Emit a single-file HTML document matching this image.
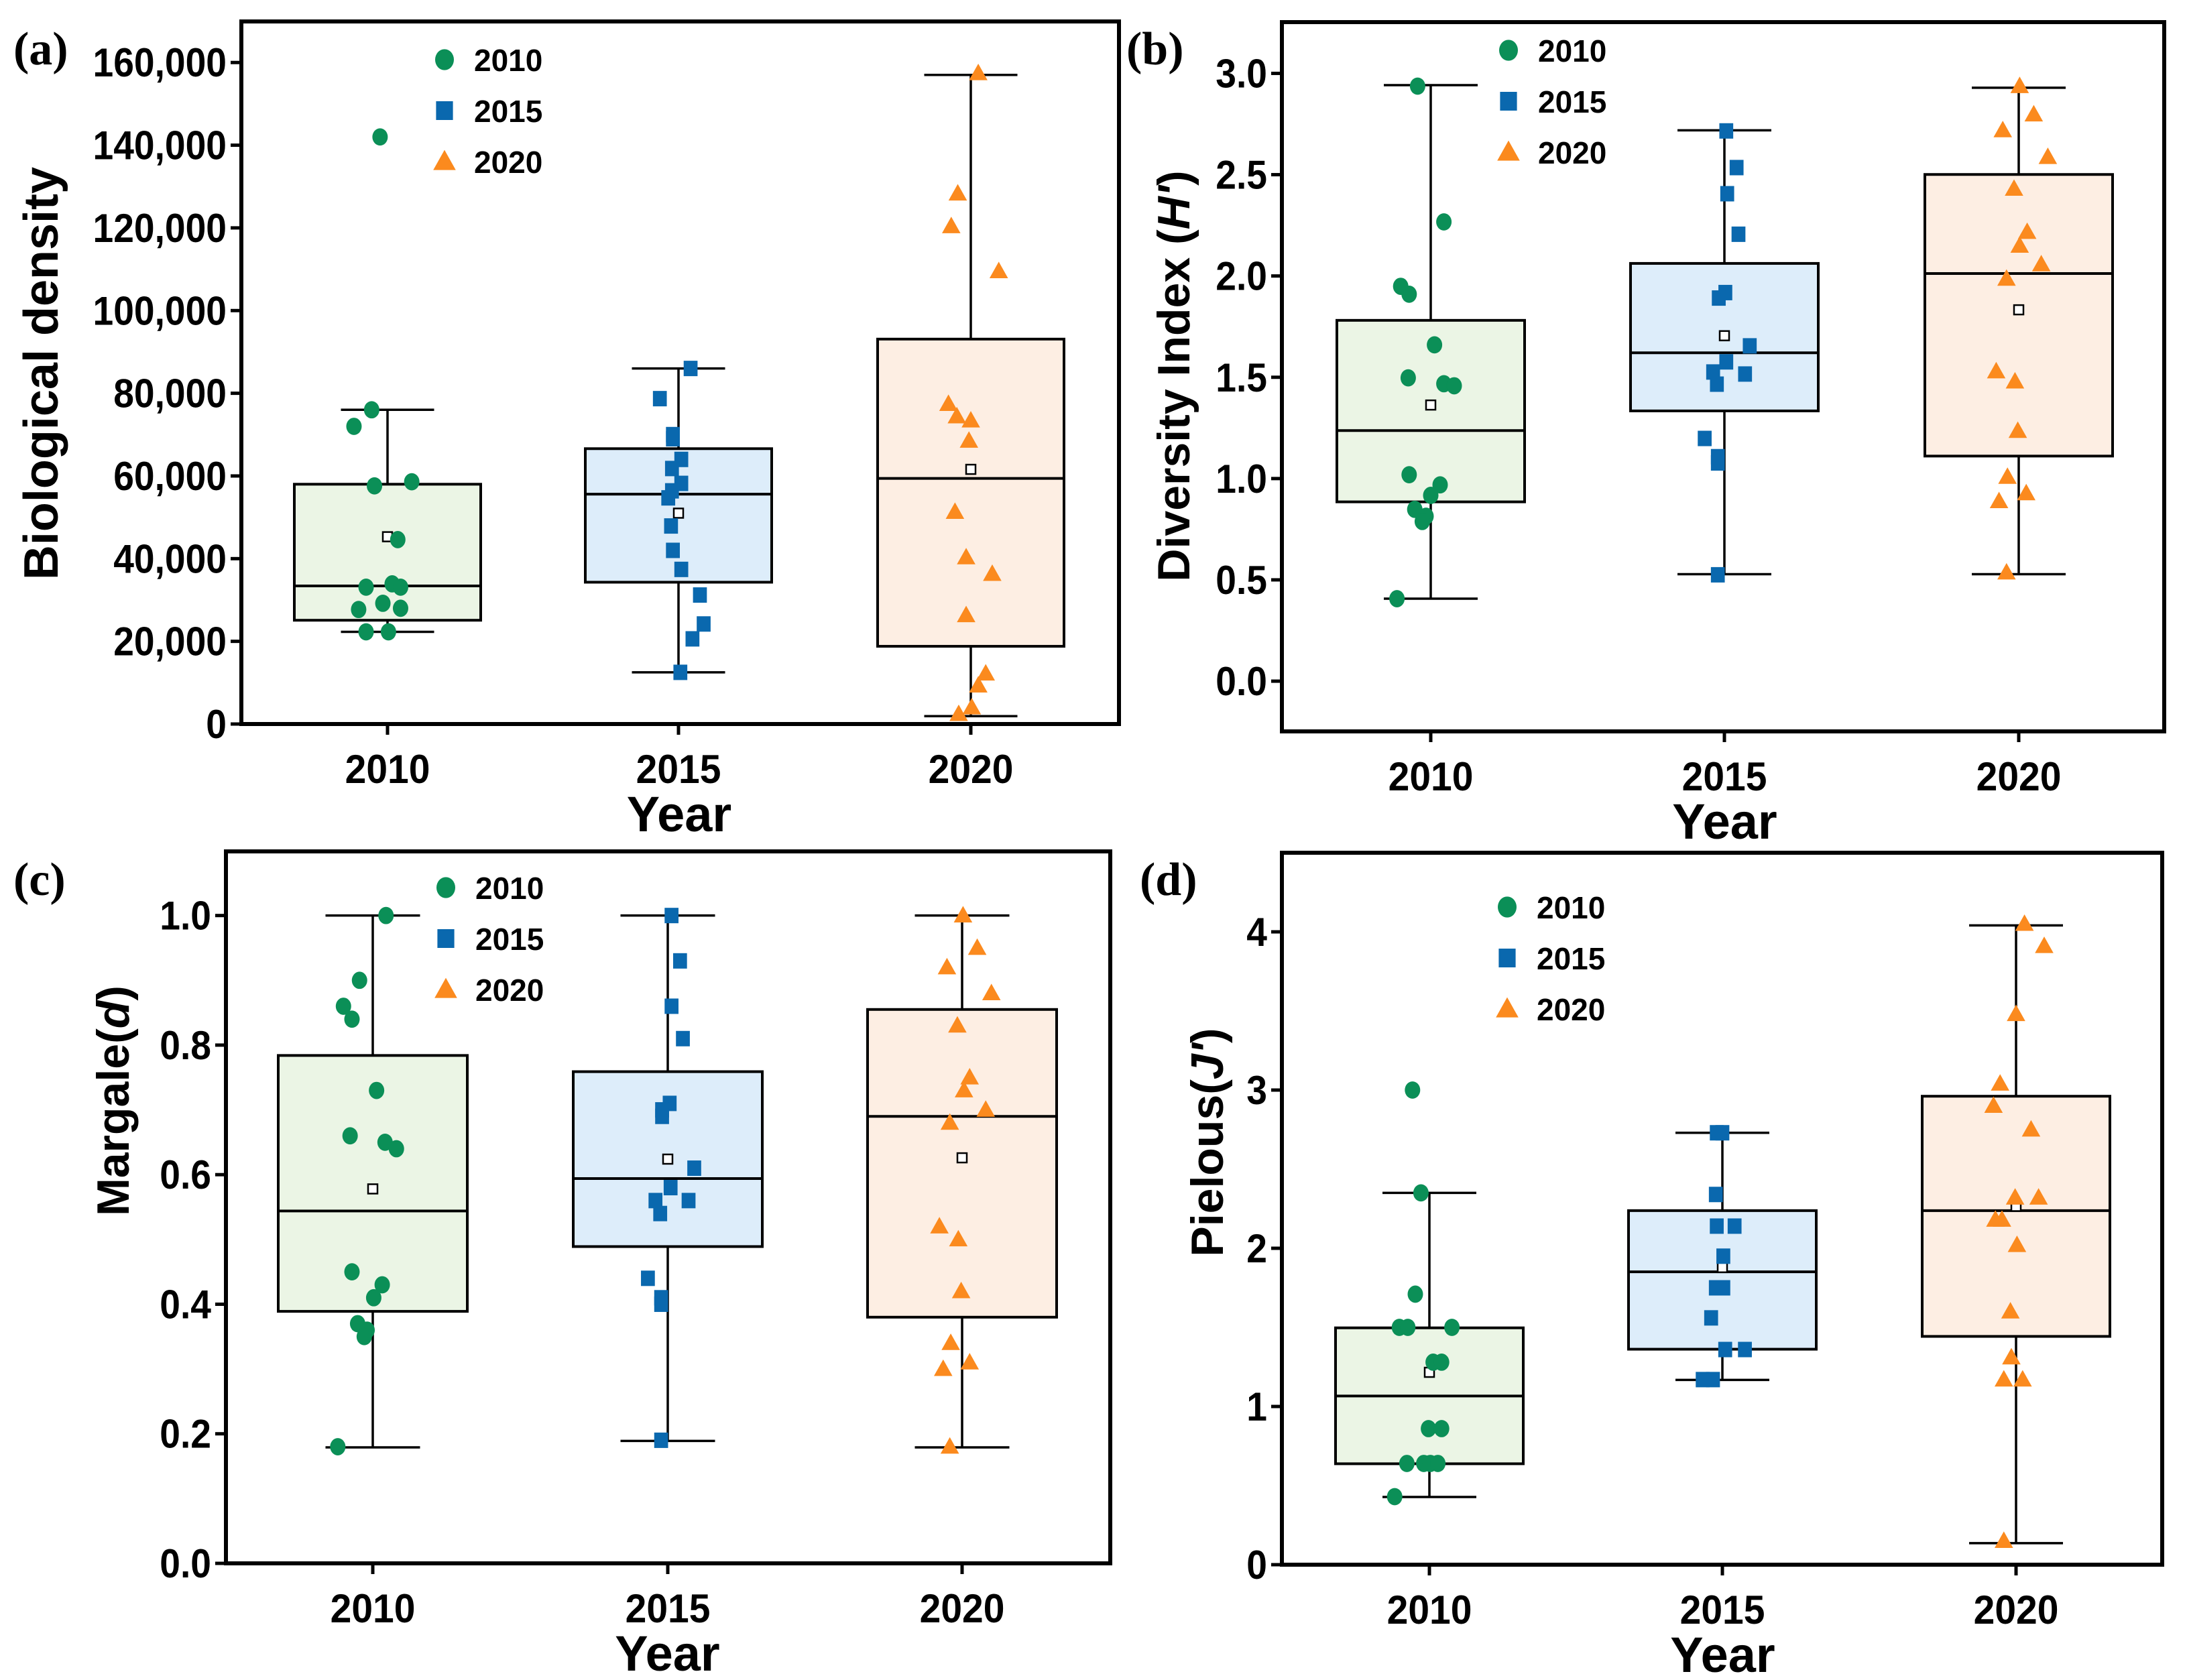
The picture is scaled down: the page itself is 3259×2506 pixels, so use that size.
<!DOCTYPE html>
<html><head><meta charset="utf-8">
<style>
html,body{margin:0;padding:0;background:#fff;}
svg{display:block;font-family:"Liberation Sans",Arial,sans-serif;}
</style></head>
<body>
<svg id="fig" width="3259" height="2506" viewBox="0 0 3259 2506" xmlns="http://www.w3.org/2000/svg"></svg>
<script>
// ---------- data ----------
const categories = ["2010","2015","2020"];
// panel a : biological density
const aBoxQ1 = [25100, 34300, 18800];
const aBoxQ3 = [58000, 66600, 93100];
const aMedian = [33400, 55600, 59400];
const aWhiskLo = [22300, 12500, 1900];
const aWhiskHi = [76000, 86000, 157000];
const aMean = [45300, 51000, 61600];
const aPts2010 = [142000,76000,72000,57600,58600,44600,33100,33900,33100,29200,27700,28000,22300,22300];
const aJit2010 = [-0.08,-0.17,-0.36,-0.14,0.26,0.11,-0.23,0.05,0.14,-0.05,-0.31,0.14,-0.23,0.01];
const aPts2015 = [86000,78700,70000,69000,64000,61800,58200,56400,54700,47900,42000,37400,31200,24200,20600,12500];
const aJit2015 = [0.13,-0.2,-0.06,-0.06,0.03,-0.07,0.03,-0.07,-0.11,-0.08,-0.06,0.03,0.23,0.27,0.15,0.02];
const aPts2020 = [157400,128300,120400,109500,77400,74400,73400,68500,51300,40300,36300,26300,12200,9300,4000,2400];
const aJit2020 = [0.08,-0.14,-0.21,0.3,-0.24,-0.15,0,-0.02,-0.17,-0.05,0.23,-0.05,0.16,0.08,0.01,-0.13];
const aTicks = [0,20000,40000,60000,80000,100000,120000,140000,160000];
// panel b : diversity index
const bBoxQ1 = [0.885, 1.334, 1.111];
const bBoxQ3 = [1.781, 2.062, 2.501];
const bMedian = [1.237, 1.621, 2.012];
const bWhiskLo = [0.407, 0.528, 0.528];
const bWhiskHi = [2.942, 2.719, 2.929];
const bMean = [1.363, 1.705, 1.833];
const bPts2010 = [2.937,2.267,1.949,1.91,1.66,1.497,1.468,1.458,1.019,0.969,0.917,0.848,0.814,0.788,0.407];
const bJit2010 = [-0.14,0.14,-0.32,-0.23,0.04,-0.24,0.14,0.25,-0.23,0.1,0,-0.17,-0.05,-0.09,-0.36];
const bPts2015 = [2.716,2.535,2.406,2.206,1.918,1.891,1.655,1.576,1.526,1.516,1.466,1.198,1.108,1.077,0.525];
const bJit2015 = [0.02,0.13,0.03,0.15,0.01,-0.06,0.27,0.02,-0.12,0.22,-0.08,-0.21,-0.07,-0.07,-0.07];
const bPts2020 = [2.937,2.797,2.719,2.587,2.43,2.217,2.149,2.057,1.986,1.529,1.479,1.235,1.008,0.927,0.888,0.536];
const bJit2020 = [0.01,0.16,-0.17,0.31,-0.05,0.09,0.01,0.24,-0.13,-0.24,-0.04,-0.01,-0.12,0.08,-0.21,-0.13];
const bTicks = [0,0.5,1,1.5,2,2.5,3];
// panel c : margalef
const cBoxQ1 = [0.389, 0.489, 0.38];
const cBoxQ3 = [0.784, 0.759, 0.855];
const cMedian = [0.544, 0.594, 0.69];
const cWhiskLo = [0.179, 0.189, 0.179];
const cWhiskHi = [1.0, 1.0, 1.0];
const cMean = [0.578, 0.624, 0.626];
const cPts2010 = [1.0,0.9,0.86,0.84,0.73,0.66,0.65,0.64,0.45,0.43,0.41,0.37,0.36,0.35,0.18];
const cJit2010 = [0.14,-0.14,-0.31,-0.22,0.04,-0.24,0.13,0.25,-0.22,0.1,0.01,-0.16,-0.06,-0.09,-0.37];
const cPts2015 = [1.0,0.93,0.86,0.81,0.71,0.70,0.69,0.61,0.58,0.56,0.56,0.54,0.44,0.41,0.40,0.19];
const cJit2015 = [0.04,0.13,0.04,0.16,0.02,-0.06,-0.06,0.28,0.03,-0.13,0.22,-0.08,-0.21,-0.07,-0.07,-0.07];
const cPts2020 = [1.0,0.95,0.92,0.88,0.83,0.75,0.73,0.70,0.68,0.52,0.50,0.42,0.34,0.31,0.30,0.18];
const cJit2020 = [0.01,0.16,-0.16,0.31,-0.05,0.08,0.02,0.25,-0.13,-0.24,-0.04,-0.01,-0.12,0.08,-0.2,-0.13];
const cTicks = [0,0.2,0.4,0.6,0.8,1.0];
// panel d : pielou
const dBoxQ1 = [0.638, 1.362, 1.443];
const dBoxQ3 = [1.497, 2.238, 2.961];
const dMedian = [1.066, 1.851, 2.238];
const dWhiskLo = [0.428, 1.168, 0.136];
const dWhiskHi = [2.35, 2.73, 4.041];
const dMean = [1.216, 1.878, 2.265];
const dPts2010 = [3.0,2.35,1.71,1.5,1.5,1.5,1.28,1.28,0.86,0.86,0.64,0.64,0.64,0.64,0.43];
const dJit2010 = [-0.18,-0.09,-0.15,-0.32,-0.23,0.24,0.04,0.13,-0.01,0.13,-0.24,-0.06,0.01,0.09,-0.37];
const dPts2015 = [2.73,2.73,2.34,2.14,2.14,1.95,1.75,1.75,1.56,1.36,1.36,1.17,1.17];
const dJit2015 = [-0.06,0,-0.07,-0.06,0.13,0.01,-0.07,0.01,-0.12,0.03,0.24,-0.21,-0.1];
const dPts2020 = [4.05,3.91,3.48,3.04,2.9,2.75,2.32,2.32,2.18,2.18,2.02,1.6,1.31,1.17,1.17,0.15];
const dJit2020 = [0.09,0.3,0,-0.17,-0.24,0.16,-0.01,0.24,-0.22,-0.15,0.01,-0.06,-0.05,-0.13,0.07,-0.13];
const dTicks = [0,1,2,3,4];

// ---------- drawing ----------
const NS = "http://www.w3.org/2000/svg";
const svg = document.getElementById("fig");
const COLORS = ["#0b8f57","#0a68ae","#fb8a1e"];
const FILLS = ["#ebf5e5","#ddedfa","#fdeee3"];
function mk(tag, attrs, parent){
  const e = document.createElementNS(NS, tag);
  for (const k in attrs) e.setAttribute(k, attrs[k]);
  (parent||svg).appendChild(e);
  return e;
}
function marker(g, kind, cx, cy, s, color){
  let e;
  if (kind===0) e = mk("ellipse",{cx:cx,cy:cy,rx:s*0.5,ry:s*0.56,fill:color},g);
  else if (kind===1) e = mk("rect",{x:cx-s*0.45,y:cy-s*0.5,width:s*0.9,height:s,fill:color},g);
  else e = mk("polygon",{points:`${cx},${cy-s*0.62} ${cx+s*0.6},${cy+s*0.45} ${cx-s*0.6},${cy+s*0.45}`,fill:color},g);
  return e;
}
function panel(p){
  const g = mk("g",{});
  
  
  const y = v => p.bottom - (v - p.ymin)/(p.ymax - p.ymin)*(p.bottom - p.top);
  const x = i => p.centers[i];
  for (let i=0;i<3;i++){
    const bg = mk("g",{},g);
    
    
    const cx = x(i), hw = p.hw;
    mk("line",{x1:cx,x2:cx,y1:y(p.whHi[i]),y2:y(p.q3[i]),stroke:"#000","stroke-width":3.5},bg);
    mk("line",{x1:cx,x2:cx,y1:y(p.q1[i]),y2:y(p.whLo[i]),stroke:"#000","stroke-width":3.5},bg);
    mk("line",{x1:cx-hw/2,x2:cx+hw/2,y1:y(p.whHi[i]),y2:y(p.whHi[i]),stroke:"#000","stroke-width":3.5},bg);
    mk("line",{x1:cx-hw/2,x2:cx+hw/2,y1:y(p.whLo[i]),y2:y(p.whLo[i]),stroke:"#000","stroke-width":3.5},bg);
    mk("rect",{x:cx-hw,y:y(p.q3[i]),width:2*hw,height:y(p.q1[i])-y(p.q3[i]),fill:FILLS[i],stroke:"#000","stroke-width":4},bg);
    mk("line",{x1:cx-hw,x2:cx+hw,y1:y(p.med[i]),y2:y(p.med[i]),stroke:"#000","stroke-width":4},bg);
    mk("rect",{x:cx-7,y:y(p.mean[i])-7,width:14,height:14,fill:"#fff",stroke:"#000","stroke-width":2.5},bg);
    const pts = p.pts[i], jit = p.jit[i];
    for (let k=0;k<pts.length;k++){
      const m = marker(bg, i, cx + jit[k]*hw, y(pts[k]), 23, COLORS[i]);
      
      
    }
  }
  const fr = mk("rect",{x:p.left,y:p.top,width:p.right-p.left,height:p.bottom-p.top,fill:"none",stroke:"#000","stroke-width":6},g);
  
  
  for (const t of p.ticks){
    const ty = y(t);
    mk("line",{x1:p.left-16,x2:p.left,y1:ty,y2:ty,stroke:"#000","stroke-width":5},g);
    const tx = mk("text",{x:0,y:0,"text-anchor":"end","font-size":60,"font-weight":"bold",transform:`translate(${p.left-22},${ty+21}) scale(0.92,1)`},g);
    tx.textContent = p.fmt(t);
    
    
  }
  for (let i=0;i<3;i++){
    mk("line",{x1:x(i),x2:x(i),y1:p.bottom,y2:p.bottom+16,stroke:"#000","stroke-width":5},g);
    const tx = mk("text",{x:0,y:0,"text-anchor":"middle","font-size":60,"font-weight":"bold",transform:`translate(${x(i)},${p.bottom+88}) scale(0.95,1)`},g);
    tx.textContent = categories[i];
    
    
  }
  const xt = mk("text",{x:(p.centers[0]+p.centers[2])/2,y:p.bottom+160,"text-anchor":"middle","font-size":74,"font-weight":"bold"},g);
  xt.textContent = "Year";
  
  
  const yt = mk("text",{x:0,y:0,"text-anchor":"middle","font-size":p.ytSize||68,"font-weight":"bold",transform:`translate(${p.ytX},${p.ytY}) rotate(-90)`},g);
  yt.innerHTML = p.ytitle;
  
  
  const pl = mk("text",{x:p.lblX,y:p.lblY,"font-size":70,"font-weight":"bold","font-family":"Liberation Serif, serif"},g);
  pl.textContent = p.label;
  
  
  for (let i=0;i<3;i++){
    const lg = mk("g",{},g);
    
    
    marker(lg, i, p.legX, p.legY + i*76, 28, COLORS[i]);
    const lt = mk("text",{x:p.legX+44,y:p.legY+i*76+17,"font-size":46,"font-weight":"bold"},lg);
    lt.textContent = categories[i];
  }
}
const comma = v => v.toLocaleString("en-US");
panel({name:"panel-a-biological-density",left:360,right:1669,top:32,bottom:1080,ymin:0,ymax:169930,
  centers:[578,1012,1448],hw:139,q1:aBoxQ1,q3:aBoxQ3,med:aMedian,whLo:aWhiskLo,whHi:aWhiskHi,mean:aMean,
  pts:[aPts2010,aPts2015,aPts2020],jit:[aJit2010,aJit2015,aJit2020],ticks:aTicks,fmt:comma,
  ytitle:"Biological density",ytSize:72,ytX:86,ytY:557,label:"(a)",lblX:20,lblY:96,legX:663,legY:89});
panel({name:"panel-b-diversity-index",left:1912,right:3228,top:33,bottom:1091,ymin:-0.248,ymax:3.253,
  centers:[2134,2572,3011],hw:140,q1:bBoxQ1,q3:bBoxQ3,med:bMedian,whLo:bWhiskLo,whHi:bWhiskHi,mean:bMean,
  pts:[bPts2010,bPts2015,bPts2020],jit:[bJit2010,bJit2015,bJit2020],ticks:bTicks,fmt:v=>v.toFixed(1),
  ytitle:'Diversity Index (<tspan font-style="italic">H\'</tspan>)',ytX:1774,ytY:561,label:"(b)",lblX:1680,lblY:96,legX:2250,legY:75});
panel({name:"panel-c-margalef",left:337,right:1656,top:1270,bottom:2332,ymin:0,ymax:1.099,
  centers:[556,996,1435],hw:141,q1:cBoxQ1,q3:cBoxQ3,med:cMedian,whLo:cWhiskLo,whHi:cWhiskHi,mean:cMean,
  pts:[cPts2010,cPts2015,cPts2020],jit:[cJit2010,cJit2015,cJit2020],ticks:cTicks,fmt:v=>v.toFixed(1),
  ytitle:'Margale(<tspan font-style="italic">d</tspan>)',ytX:192,ytY:1642,label:"(c)",lblX:20,lblY:1335,legX:665,legY:1324});
panel({name:"panel-d-pielou",left:1912,right:3225,top:1272,bottom:2334,ymin:0,ymax:4.5,
  centers:[2132,2569,3007],hw:140,q1:dBoxQ1,q3:dBoxQ3,med:dMedian,whLo:dWhiskLo,whHi:dWhiskHi,mean:dMean,
  pts:[dPts2010,dPts2015,dPts2020],jit:[dJit2010,dJit2015,dJit2020],ticks:dTicks,fmt:v=>String(v),
  ytitle:'Pielous(<tspan font-style="italic">J\'</tspan>)',ytX:1824,ytY:1704,label:"(d)",lblX:1700,lblY:1335,legX:2248,legY:1353});
</script>
</body></html>
